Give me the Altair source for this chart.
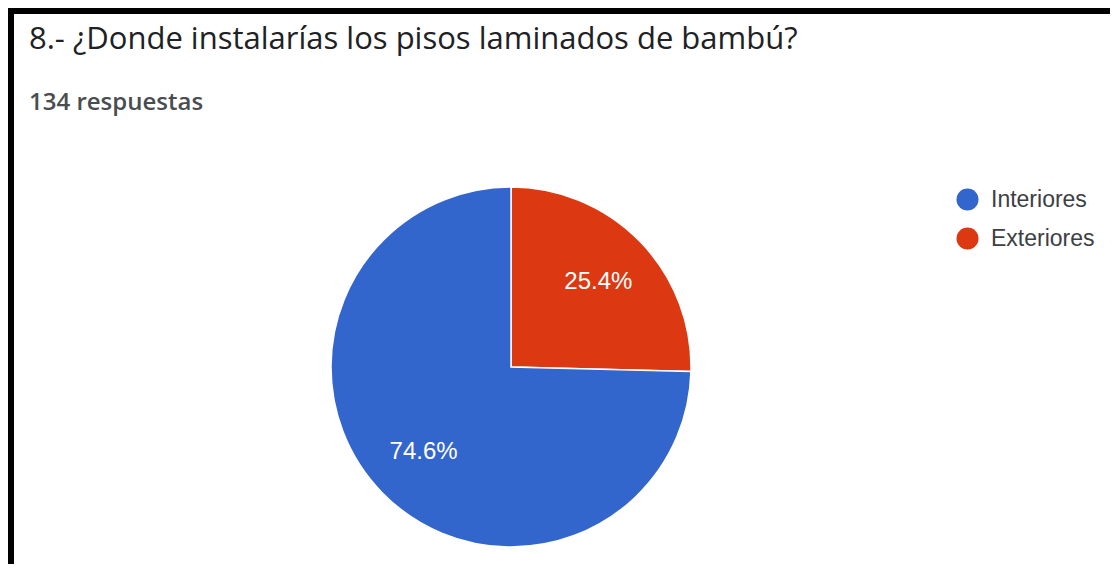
import altair as alt
import pandas as pd

categories = ["Exteriores", "Interiores"]
values = [25.4, 74.6]
labels = ["25.4%", "74.6%"]
legend_order = ["Interiores", "Exteriores"]
colors = ["#3366cc", "#dc3912"]
title_text = "8.- ¿Donde instalarías los pisos laminados de bambú?"
subtitle_text = "134 respuestas"

df = pd.DataFrame({"cat": categories, "val": values, "lab": labels, "ord": [0, 1]})

W, H = 1102, 556
CX, CY = 503, 359

base = alt.Chart(df).encode(
    theta=alt.Theta("val:Q", stack=True),
    order=alt.Order("ord:Q"),
)

pie = base.mark_arc(radius=180, stroke="white", strokeWidth=1.5).encode(
    x=alt.value(CX),
    y=alt.value(CY),
    color=alt.Color(
        "cat:N",
        scale=alt.Scale(domain=legend_order, range=colors),
        legend=alt.Legend(
            title=None,
            orient="none",
            legendX=948,
            legendY=180,
            symbolType="circle",
            symbolSize=484,
            symbolStrokeWidth=0,
            labelFontSize=23,
            labelFont="Liberation Sans",
            labelColor="#3c4043",
            labelOffset=12,
            rowPadding=15,
            padding=0,
        ),
    ),
)

txt = base.mark_text(
    radius=122, font="Liberation Sans", fontSize=24, color="white"
).encode(x=alt.value(CX), y=alt.value(CY), text="lab:N")

title = alt.Chart(pd.DataFrame({"t": [title_text]})).mark_text(
    align="left", baseline="alphabetic", font="Open Sans", fontSize=31, color="#202124"
).encode(x=alt.value(21), y=alt.value(41), text="t:N")

subtitle = alt.Chart(pd.DataFrame({"t": [subtitle_text]})).mark_text(
    align="left", baseline="alphabetic", font="Open Sans", fontSize=24,
    fontWeight=600, color="#4a4d50"
).encode(x=alt.value(21), y=alt.value(102), text="t:N")

border_top = alt.Chart(pd.DataFrame({"a": [0]})).mark_rule(
    color="black", strokeWidth=8
).encode(x=alt.value(-2), x2=alt.value(W + 10), y=alt.value(2))

border_left = alt.Chart(pd.DataFrame({"a": [0]})).mark_rule(
    color="black", strokeWidth=8
).encode(x=alt.value(2), y=alt.value(-2), y2=alt.value(H + 10))

chart = (
    alt.layer(border_top, border_left, pie, txt, title, subtitle)
    .properties(width=W, height=H, padding=0, autosize=alt.AutoSizeParams(type="none"))
    .configure_view(stroke=None)
)

chart.save("out.html", embed_options={"renderer": "svg", "actions": False})
